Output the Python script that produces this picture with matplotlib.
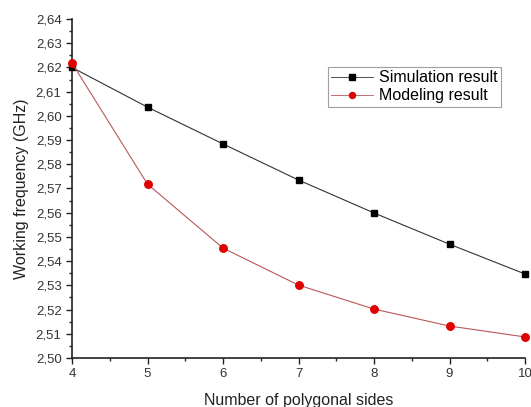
import numpy as np
import matplotlib
matplotlib.use('Agg')
import matplotlib.pyplot as plt
from matplotlib.ticker import MultipleLocator, FuncFormatter

plt.rcParams['font.family'] = ['Liberation Sans', 'DejaVu Sans']

sides = [4, 5, 6, 7, 8, 9, 10]
simulation = [2.620, 2.6036, 2.5884, 2.5735, 2.5599, 2.5470, 2.5347]
modeling = [2.6218, 2.5718, 2.5454, 2.5301, 2.5202, 2.5132, 2.5087]

fig = plt.figure(figsize=(5.31, 4.07), dpi=100)
ax = fig.add_axes([72/531, 1-358/407, (525-72)/531, (358-19)/407])

ax.plot(sides, simulation, color='#333333', lw=0.8, marker='s', ms=4.6,
        mfc='black', mec='black', label='Simulation result', clip_on=False, zorder=3)
ax.plot(sides, modeling, color='#b85858', lw=0.8, marker='o', ms=5.4,
        mfc='#e00000', mec='#e00000', label='Modeling result', clip_on=False, zorder=3)

ax.set_xlim(4, 10)
ax.set_ylim(2.50, 2.64)
ax.xaxis.set_major_locator(MultipleLocator(1))
ax.xaxis.set_minor_locator(MultipleLocator(0.5))
ax.yaxis.set_major_locator(MultipleLocator(0.01))
ax.yaxis.set_minor_locator(MultipleLocator(0.005))
ax.yaxis.set_major_formatter(FuncFormatter(lambda v, p: f'{v:.2f}'.replace('.', ',')))

for s in ['top', 'right']:
    ax.spines[s].set_visible(False)
for s in ['left', 'bottom']:
    ax.spines[s].set_linewidth(1.2)
    ax.spines[s].set_color('#222222')
ax.tick_params(which='major', direction='out', length=4, width=1, labelsize=9.5,
               colors='#222222', labelcolor='#333333')
ax.tick_params(which='minor', direction='out', length=2.5, width=1, colors='#222222')

ax.set_xlabel('Number of polygonal sides', fontsize=11.5, color='#222222', labelpad=9)
ax.set_ylabel('Working frequency (GHz)', fontsize=11.5, color='#222222', labelpad=5)

leg = ax.legend(loc='upper left', bbox_to_anchor=((328-72)/453, 1-(67-19)/339),
                fontsize=11.5, frameon=True, fancybox=False, borderpad=0.2,
                handlelength=2.6, handletextpad=0.4, labelspacing=0.2,
                borderaxespad=0, markerscale=0.8)
leg.get_frame().set_edgecolor('#888888')
leg.get_frame().set_linewidth(0.8)
for line in leg.get_lines():
    line.set_linewidth(0.6)

plt.savefig('out.png', dpi=100)
